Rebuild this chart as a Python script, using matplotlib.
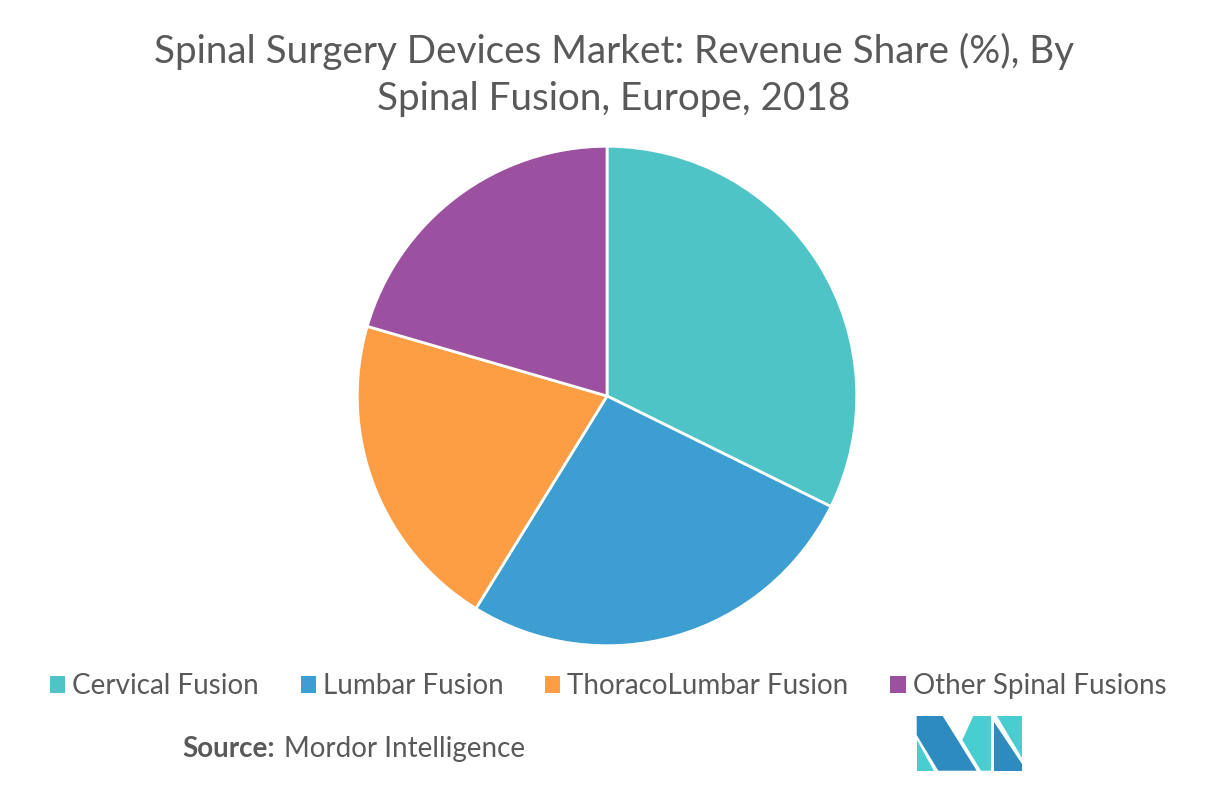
import matplotlib
matplotlib.use("Agg")
import matplotlib.pyplot as plt
from matplotlib.patches import Patch, Polygon

# 数据
segments = ["Cervical Fusion", "Lumbar Fusion", "ThoracoLumbar Fusion", "Other Spinal Fusions"]
shares = [32.3, 26.5, 20.7, 20.5]
colors = ["#4FC4C7", "#3C9ED1", "#FD9D44", "#9B519F"]

title = "Spinal Surgery Devices Market: Revenue Share (%), By\nSpinal Fusion, Europe, 2018"
text_color = "#595959"

plt.rcParams["font.family"] = ["Lato", "DejaVu Sans"]

fig = plt.figure(figsize=(12.16, 7.85), dpi=100)
fig.patch.set_facecolor("white")

# 饼图
ax = fig.add_axes([0.2928, 0.1758, 0.4128, 0.6395])
ax.pie(shares, colors=colors, startangle=90, counterclock=False,
       wedgeprops=dict(edgecolor="white", linewidth=2))
ax.set_xlim(-1.005, 1.005)
ax.set_ylim(-1.005, 1.005)
ax.set_aspect("equal")

fig.text(0.505, 0.958, title, ha="center", va="top", fontsize=27.8,
         color=text_color, linespacing=1.38)

# 图例
handles = [Patch(facecolor=c, edgecolor="none") for c in colors]
fig.legend(handles, segments, loc="center", bbox_to_anchor=(0.5, 0.126), ncol=4,
           frameon=False, fontsize=20, labelcolor=text_color,
           handlelength=0.55, handleheight=0.55, handletextpad=0.25, columnspacing=1.5)

# 来源
fig.text(0.150, 0.046, "Source:", fontsize=20, fontweight="bold", color=text_color,
         ha="left", va="center")
fig.text(0.2335, 0.046, "Mordor Intelligence", fontsize=20, color=text_color,
         ha="left", va="center")

# logo
lax = fig.add_axes([0, 0, 1, 1], zorder=-1)
lax.set_xlim(0, 1216)
lax.set_ylim(785, 0)
lax.axis("off")
dark = "#2E8BC0"
teal = "#48CDD1"
shapes = [
    ([(916.7, 716), (942.7, 716), (976.7, 770.7), (938.3, 770.7), (916.7, 735)], dark),
    ([(916.7, 740), (916.7, 770.7), (934.3, 770.7)], teal),
    ([(973.3, 716), (991, 716), (991, 770.7), (981, 770.7), (962.3, 740)], teal),
    ([(996.7, 716), (1021.7, 716), (1021.7, 758.3)], teal),
    ([(994.3, 721.7), (994.3, 770.7), (1021.7, 770.7), (1021.7, 764.3)], dark),
]
for pts, c in shapes:
    lax.add_patch(Polygon(pts, closed=True, facecolor=c, edgecolor="none"))

fig.savefig("out.png", dpi=100)
